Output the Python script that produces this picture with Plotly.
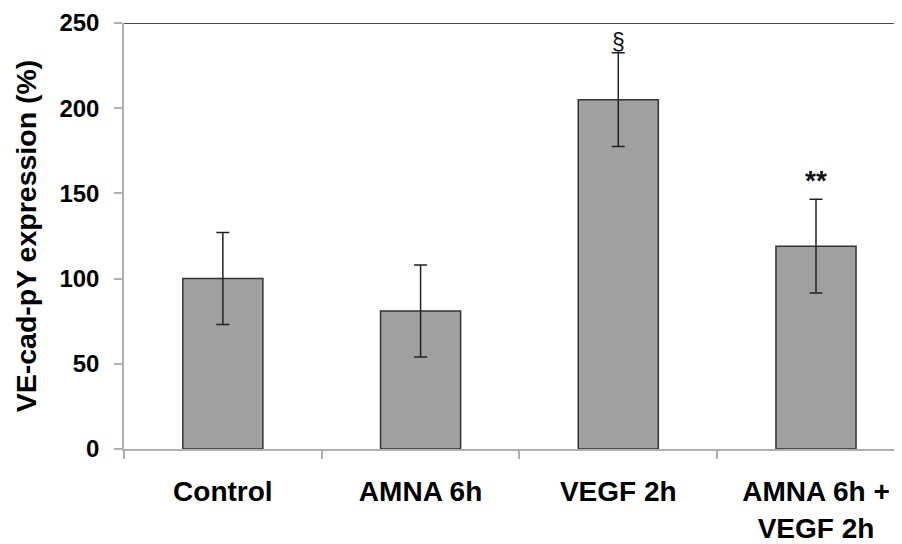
import plotly.graph_objects as go

categories = ["Control", "AMNA 6h", "VEGF 2h", "AMNA 6h +<br>VEGF 2h"]
values = [100, 81, 205, 119]
errors = [27, 27, 27.5, 27.5]
marks = ["", "", "§", "**"]
y_ticks = [0, 50, 100, 150, 200, 250]

FONT = "Arial, Liberation Sans, sans-serif"

fig = go.Figure()
fig.add_trace(go.Bar(
    x=categories, y=values,
    width=0.405,
    marker=dict(color="#a0a0a0", line=dict(color="#333333", width=1.5)),
    error_y=dict(type="data", array=errors, visible=True, color="#222222", thickness=1.5, width=6.5),
    showlegend=False,
))

for c, v, e, m in zip(categories, values, errors, marks):
    if not m:
        continue
    if m == "§":
        fig.add_annotation(x=c, y=v + e, text=m, showarrow=False, yanchor="bottom", yshift=-4,
                           font=dict(family=FONT, size=23, color="#111111"))
    else:
        fig.add_annotation(x=c, y=v + e, text="<b>" + m + "</b>", showarrow=False,
                           yanchor="bottom", yshift=1,
                           font=dict(family=FONT, size=28, color="#111111"))

fig.add_shape(type="line", xref="paper", yref="y", x0=0, x1=1, y0=250, y1=250,
              line=dict(color="#111111", width=1.5))

fig.update_layout(
    width=894, height=536,
    margin=dict(l=116, r=0, t=15, b=95),
    plot_bgcolor="white", paper_bgcolor="white",
    font=dict(family=FONT, color="black"),
)
fig.update_xaxes(
    type="category", range=[-0.5, 3.435], automargin=False,
    tickson="boundaries", ticks="outside", ticklen=8, tickwidth=1.5, tickcolor="#b0b0b0",
    showline=True, linecolor="#b0b0b0", linewidth=1.5,
    tickfont=dict(family=FONT, size=28, color="black", weight="bold"),
    ticklabelstandoff=17, showgrid=False,
)
fig.update_yaxes(
    range=[0, 250], tickvals=y_ticks, automargin=False,
    ticks="outside", ticklen=8, tickwidth=1.5, tickcolor="#b0b0b0",
    showline=True, linecolor="#b0b0b0", linewidth=1.5,
    tickfont=dict(family=FONT, size=24, color="black", weight="bold"),
    ticklabelstandoff=10, showgrid=False, zeroline=False,
    title=dict(text="VE-cad-pY expression (%)", standoff=14,
               font=dict(family=FONT, size=28.5, color="black", weight="bold")),
)

fig.write_html("out.html")
